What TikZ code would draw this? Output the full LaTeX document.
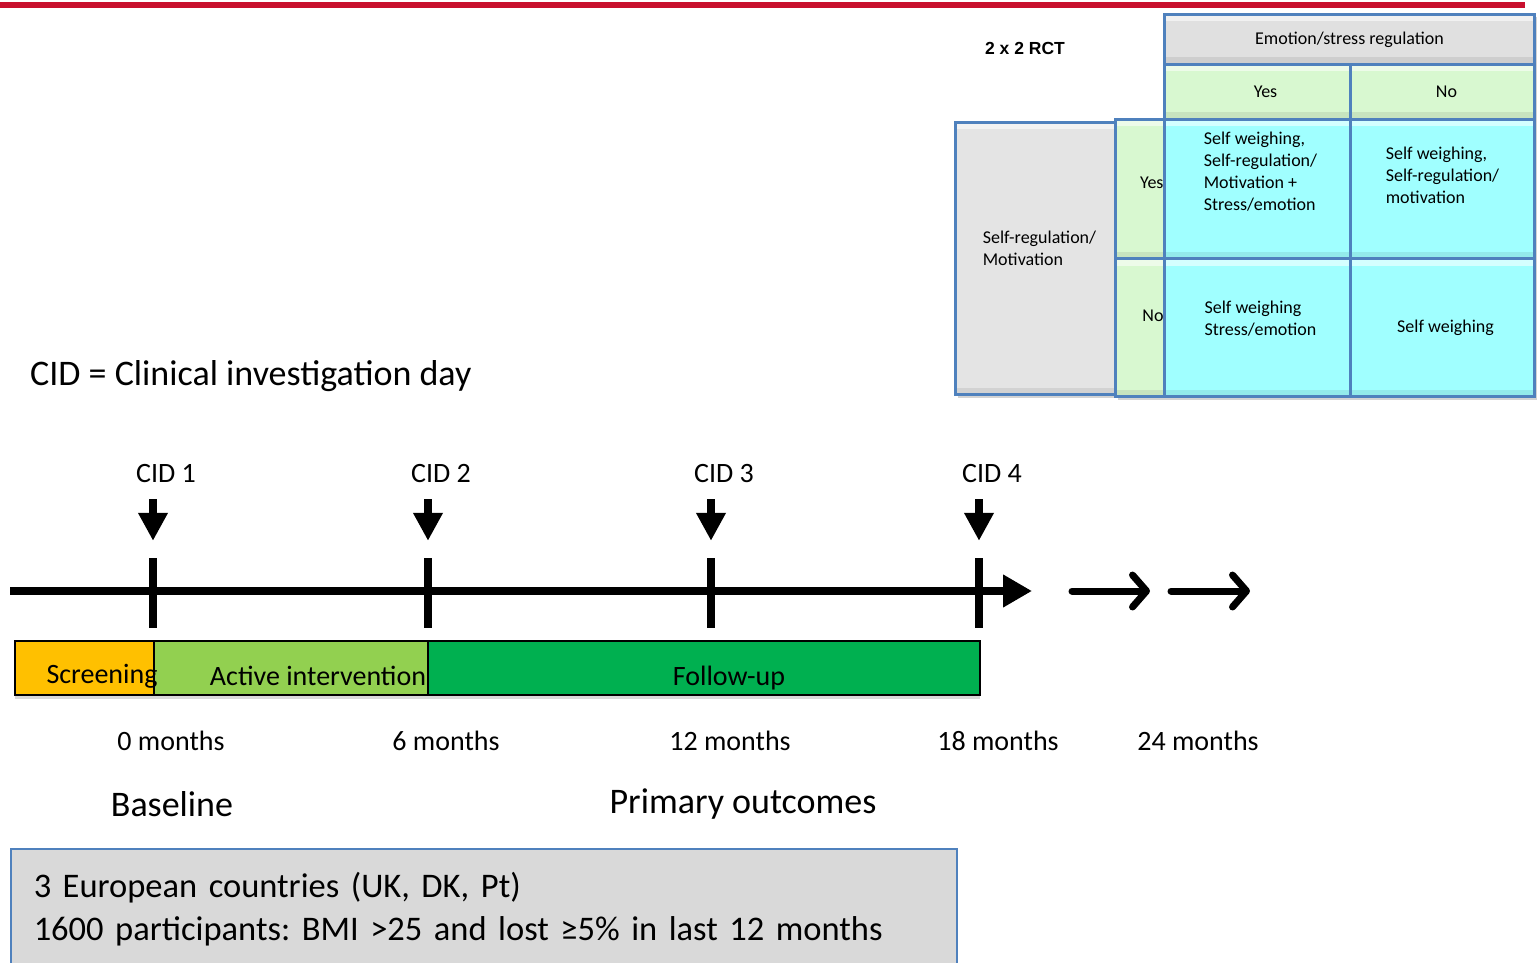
\documentclass[tikz,border=0pt]{standalone}
\usepackage{fontspec}
\setmainfont{Carlito}
\newfontfamily\rctfont{Liberation Sans}
\usetikzlibrary{arrows.meta, shadows}
\definecolor{topred}{RGB}{200,16,46}
\definecolor{cellborder}{RGB}{79,129,189}
\definecolor{headgray}{RGB}{224,224,224}
\definecolor{sidegray}{RGB}{228,228,228}
\definecolor{yesgreen}{RGB}{216,248,208}
\definecolor{cellcyan}{RGB}{160,255,255}
\definecolor{scrorange}{RGB}{255,192,0}
\definecolor{actgreen}{RGB}{146,208,80}
\definecolor{fugreen}{RGB}{0,176,80}
\definecolor{notegray}{RGB}{217,217,217}
\tikzset{
    cell/.style={draw=cellborder, line width=3pt, rectangle, inner sep=0pt, align=left, font=\fontsize{18}{22}\selectfont,
        drop shadow={shadow xshift=2pt, shadow yshift=-3pt, opacity=0.35},
        path picture={\fill[white, opacity=0.55] (path picture bounding box.north west) rectangle ([yshift=-7pt]path picture bounding box.north east);
                      \fill[black, opacity=0.08] (path picture bounding box.south west) rectangle ([yshift=7pt]path picture bounding box.south east);}},
    tick/.style={fill=black, rectangle, inner sep=0pt, minimum width=8pt, minimum height=70pt},
    bar/.style={draw=black, line width=1.5pt, rectangle, inner sep=0pt, minimum height=54pt,
        drop shadow={shadow xshift=0pt, shadow yshift=-4pt, opacity=0.3}},
    barlab/.style={font=\fontsize{28}{32}\selectfont, inner sep=0pt},
    cidlab/.style={font=\fontsize{28}{32}\selectfont, inner sep=0pt},
    monthlab/.style={font=\fontsize{28}{32}\selectfont, inner sep=0pt},
    biglab/.style={font=\fontsize{36}{40}\selectfont, inner sep=0pt},
    timeaxis/.style={line width=8pt, -{Triangle[length=29pt, width=31pt]}},
    cidarrow/.style={line width=8pt, -{Triangle[length=28pt, width=28pt]}},
    laterarrow/.style={line width=7pt, line cap=round, -{Straight Barb[length=14pt, width=32pt, line cap=round, round]}}
}
\begin{document}
\frenchspacing
\begin{tikzpicture}[x=1pt, y=-1pt]
\useasboundingbox (0,0) rectangle (1537,963);
\fill[topred] (0,2) rectangle (1525,8);

% 2 x 2 design
\node[font=\rctfont\bfseries\fontsize{17.5}{20}\selectfont, inner sep=0pt] (rct) at (1025,48) {2 x 2 RCT};
\node[cell, fill=headgray, anchor=north west, minimum width=370pt, minimum height=50pt] (emo) at (1163,13) {Emotion/stress regulation};
\node[cell, fill=yesgreen, anchor=north west, minimum width=186pt, minimum height=55pt, text width=170pt, align=center] (colyes) at (1163,63) {\hspace*{16pt}Yes};
\node[cell, fill=yesgreen, anchor=north west, minimum width=184pt, minimum height=55pt, text width=170pt, align=center] (colno) at (1349,63) {\hspace*{8pt}No};
\node[cell, fill=sidegray, anchor=north west, minimum width=160pt, minimum height=272pt, text depth=21pt] (selfreg) at (954,121) {\hspace*{8pt}Self-regulation/\\\hspace*{8pt}Motivation};
\node[cell, fill=yesgreen, anchor=north west, minimum width=49pt, minimum height=139pt, text width=47pt, align=right, text depth=13pt] (rowyes) at (1114,118) {Yes};
\node[cell, fill=yesgreen, anchor=north west, minimum width=49pt, minimum height=138pt, text width=47pt, align=right, text depth=24pt] (rowno) at (1114,257) {No};
\node[cell, fill=cellcyan, anchor=north west, minimum width=186pt, minimum height=139pt, text depth=35pt] (both) at (1163,118) {\hspace*{6pt}Self weighing,\\\hspace*{6pt}Self-regulation/\\\hspace*{6pt}Motivation +\\\hspace*{6pt}Stress/emotion};
\node[cell, fill=cellcyan, anchor=north west, minimum width=184pt, minimum height=139pt, text depth=27pt] (srmonly) at (1349,118) {Self weighing,\\Self-regulation/\\motivation};
\node[cell, fill=cellcyan, anchor=north west, minimum width=186pt, minimum height=138pt, text depth=19pt] (emoonly) at (1163,257) {\hspace*{6pt}Self weighing\\\hspace*{6pt}Stress/emotion};
\node[cell, fill=cellcyan, anchor=north west, minimum width=184pt, minimum height=138pt] (control) at (1349,257) {\hspace*{6pt}Self weighing};

\node[biglab, anchor=west] (cidnote) at (30,376) {CID = Clinical investigation day};

% timeline
\coordinate (axstart) at (10,591);
\coordinate (axend) at (1032,591);
\draw[timeaxis] (axstart) -- (axend);
\node[tick] (t1) at (153,593) {};
\node[tick] (t2) at (428,593) {};
\node[tick] (t3) at (711,593) {};
\node[tick] (t4) at (979,593) {};
\node[cidlab] (cid1) at (166,474) {CID 1};
\node[cidlab] (cid2) at (441,474) {CID 2};
\node[cidlab] (cid3) at (724,474) {CID 3};
\node[cidlab] (cid4) at (992,474) {CID 4};
\coordinate (a1) at (153,499);
\coordinate (a2) at (428,499);
\coordinate (a3) at (711,499);
\coordinate (a4) at (979,499);
\draw[cidarrow, shorten >=17pt] (a1) -- (t1.north);
\draw[cidarrow, shorten >=17pt] (a2) -- (t2.north);
\draw[cidarrow, shorten >=17pt] (a3) -- (t3.north);
\draw[cidarrow, shorten >=17pt] (a4) -- (t4.north);
\coordinate (later1) at (1072,591);
\coordinate (later2) at (1150,591);
\coordinate (later3) at (1171,591);
\coordinate (later4) at (1250,591);
\draw[laterarrow] (later1) -- (later2);
\draw[laterarrow] (later3) -- (later4);

% phases
\node[bar, fill=actgreen, minimum width=274pt] (active) at (291,668) {};
\node[bar, fill=fugreen, minimum width=552pt] (followup) at (704,668) {};
\node[bar, fill=scrorange, minimum width=139pt] (screening) at (84.5,668) {};
\node[barlab] (scrlab) at (102,676) {Screening};
\node[barlab] (actlab) at (318,676) {Active intervention};
\node[barlab] (fulab) at (729,678) {Follow-up};

\node[monthlab] (m0) at (171,741) {0 months};
\node[monthlab] (m6) at (446,741) {6 months};
\node[monthlab] (m12) at (730,741) {12 months};
\node[monthlab] (m18) at (998,741) {18 months};
\node[monthlab] (m24) at (1198,741) {24 months};
\node[biglab] (baseline) at (172,804) {Baseline};
\node[biglab] (primary) at (743,804) {Primary outcomes};

% participants
\node[draw=cellborder, line width=1.5pt, fill=notegray, anchor=north west, minimum width=946pt, minimum height=120pt,
      inner xsep=23pt, text width=900pt, align=left, font=\fontsize{34.5}{43}\selectfont] (sample) at (10,848)
      {3 European countries (UK, DK, Pt)\\1600 participants: BMI >25 and lost ≥5\% in last 12 months};
\end{tikzpicture}
\end{document}
